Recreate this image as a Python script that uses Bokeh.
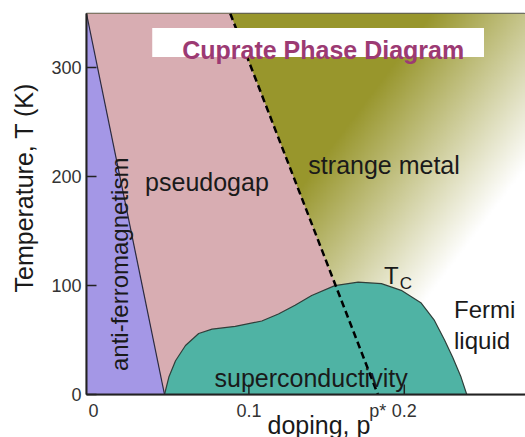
import numpy as np
from bokeh.plotting import figure
from bokeh.models import Range1d, Label, BoxAnnotation, FixedTicker, Title
from bokeh.embed import file_html
from bokeh.resources import INLINE

# ---------------- data ----------------
x_min, x_max = -0.0045, 0.278
T_max = 350
p_star = 0.183          # end of pseudogap line at T = 0
pg_top_x = 0.088        # pseudogap line at T = 350
af_end_x = 0.0457       # antiferromagnetism ends at T = 0

af_x = [x_min, x_min, af_end_x]
af_T = [0, T_max, 0]

pg_x = [x_min, pg_top_x, p_star, af_end_x]
pg_T = [T_max, T_max, 0, 0]

sc_x = [0.0457, 0.0485, 0.0528, 0.0592, 0.0677, 0.0763, 0.0912, 0.1083, 0.119,
        0.1297, 0.1404, 0.1553, 0.1703, 0.1853, 0.198, 0.2109, 0.2194, 0.2259,
        0.2312, 0.2365, 0.2402]
sc_T = [0, 16, 31, 45, 56, 60, 62.6, 67.5, 74, 82, 91, 100, 103.3, 101.8,
        95.7, 84, 68, 50, 34, 16, 0]

dash_x = [pg_top_x, p_star]
dash_T = [T_max, 0]

y_ticks = [0, 100, 200, 300]
x_ticks = [0.1, 0.2]                       # ticks with marks
x_label_ticks = [0.0, 0.1, p_star, 0.2]    # positions of x tick labels
x_tick_labels = ["0", "0.1", "p*", "0.2"]

FONT = "Liberation Sans"

p = figure(width=525, height=437, x_range=Range1d(x_min, x_max),
           y_range=Range1d(0, T_max), output_backend="svg", toolbar_location=None,
           min_border_left=84, min_border_right=0, min_border_top=13,
           min_border_bottom=43)
p.xgrid.visible = False
p.ygrid.visible = False
p.background_fill_color = "white"
p.border_fill_color = "white"
p.outline_line_color = "#555555"
p.outline_line_width = 1.5

# ---------------- gradient background (strange metal -> Fermi liquid) -------
nx, ny = 300, 260
xs = np.linspace(x_min, x_max, nx)
Ts = np.linspace(0, T_max, ny)
X, Y = np.meshgrid(xs, Ts)
px = 91 + X * 1560.0
py = 394 - Y * 1.087
t = np.clip(((px - 377) + 0.76 * (py - 83)) / 212.0, 0, 1)
dark = (152, 150, 44)
img = np.empty((ny, nx), dtype=np.uint32)
view = img.view(dtype=np.uint8).reshape((ny, nx, 4))
for i in range(3):
    view[:, :, i] = (dark[i] + (255 - dark[i]) * t).astype(np.uint8)
view[:, :, 3] = 255
p.image_rgba(image=[img], x=x_min, y=0, dw=x_max - x_min, dh=T_max)

# ---------------- regions ----------------
p.patch(pg_x, pg_T, fill_color="#d8adb2", line_color=None)
p.patch(sc_x, sc_T, fill_color="#4fb3a4", line_color="#2f3f3a", line_width=1.2)
p.patch(af_x, af_T, fill_color="#a497e6", line_color=None)
p.line([x_min, af_end_x], [T_max, 0], line_color="#2a2a40", line_width=1.2)
p.line(dash_x, dash_T, line_color="black", line_width=2.5, line_dash="7 4")

# inward tick marks of the x axis (half of the marker is clipped by the frame)
p.scatter(x=x_ticks, y=[0] * len(x_ticks), marker="dash", angle=np.pi / 2,
          size=20, line_color="#222222", line_width=1.5)

# ---------------- axes ----------------
p.yaxis.ticker = FixedTicker(ticks=y_ticks)
p.xaxis.ticker = FixedTicker(ticks=x_label_ticks)
p.xaxis.major_label_overrides = {float(k): v for k, v in zip(x_label_ticks, x_tick_labels)}
for ax in (p.xaxis[0], p.yaxis[0]):
    ax.major_tick_in = 10
    ax.major_tick_out = 0
    ax.minor_tick_in = 0
    ax.minor_tick_out = 0
    ax.major_tick_line_color = "#222222"
    ax.major_tick_line_width = 1.5
    ax.axis_line_color = "#222222"
    ax.axis_line_width = 2
    ax.major_label_text_font = FONT
    ax.major_label_text_font_size = "18px"
    ax.major_label_text_color = "#333333"
    ax.major_label_standoff = 6
p.yaxis.major_label_standoff = 5
p.xaxis.major_tick_in = 0
p.xaxis.major_tick_line_color = None

p.add_layout(Title(text="Temperature, T (K)", align="left", offset=102,
                   vertical_align="top", standoff=18, text_font=FONT,
                   text_font_size="25px", text_font_style="normal",
                   text_color="#1a1a1a"), "left")
p.add_layout(Title(text="doping, p", align="left", offset=181,
                   vertical_align="top", standoff=-25, text_font=FONT,
                   text_font_size="25px", text_font_style="normal",
                   text_color="#1a1a1a"), "below")

def lab(text, x, y, size="25px", align="center", angle=0, color="#1a1a1a",
        style="normal"):
    p.add_layout(Label(x=x, y=y, text=text, text_font=FONT, text_font_size=size,
                       text_align=align, text_baseline="alphabetic", angle=angle,
                       text_color=color, text_font_style=style))

# title box
p.add_layout(BoxAnnotation(left=0.0378, right=0.2513, bottom=310, top=336.7,
                           fill_color="white", fill_alpha=1, line_color=None))
lab("Cuprate Phase Diagram", 0.1478, 316.5, size="25px", color="#9c3a73",
    style="bold")

# region labels
lab("pseudogap", 0.073, 195)
lab("strange metal", 0.187, 210.7)
lab("superconductivity", 0.140, 15.6)
lab("anti-ferromagnetism", 0.0167, 119.6, size="24px", angle=np.pi / 2)
lab("T", 0.187, 109.5, size="24px", align="left")
lab("C", 0.197, 102, size="17px", align="left")
lab("Fermi", 0.232, 78.2, size="24px", align="left")
lab("liquid", 0.232, 49.7, size="24px", align="left")

open("out.html", "w").write(file_html(p, INLINE))
